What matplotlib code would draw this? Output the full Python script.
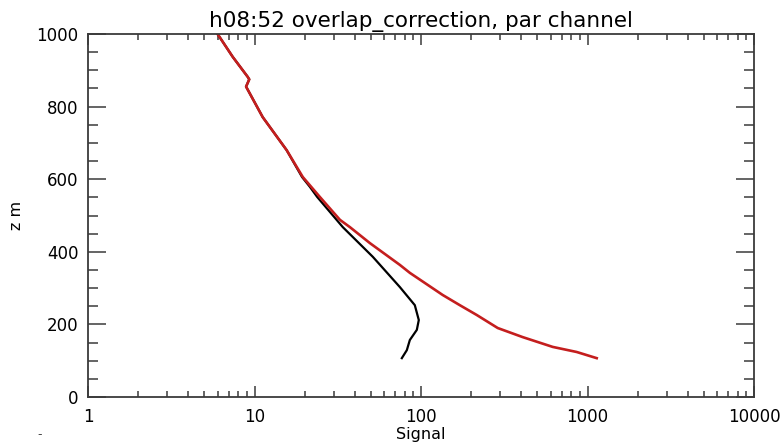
import numpy as np
import matplotlib
matplotlib.use("Agg")
import matplotlib.pyplot as plt

# profile points (signal, height in m)
red_signal = [6.0, 7.4, 9.1, 9.3, 8.9, 11.2, 15.6, 19.5, 24.7, 32.6, 37.4, 49.3,
              74.6, 85.7, 135, 171, 216, 289, 408, 618, 861, 1136]
red_z = [1000, 937, 882, 875, 855, 771, 680, 606, 551, 488, 468, 424,
         364, 342, 281, 253, 226, 190, 165, 138, 124, 107]

black_signal = [6.0, 7.4, 9.1, 9.3, 8.9, 11.2, 15.6, 19.3, 21.5, 23.8, 33.9, 51.4,
                74.6, 91.8, 97.0, 94.4, 85.7, 82.2, 76.7]
black_z = [1000, 937, 882, 875, 855, 771, 680, 606, 579, 551, 468, 386,
           303, 253, 212, 185, 157, 129, 107]

fig = plt.figure(figsize=(7.81, 4.46), dpi=100)
ax = fig.add_axes([88/781, 1-397/446, (754-88)/781, (397-34)/446])

ax.plot(black_signal, black_z, color="black", lw=1.6)
ax.plot(red_signal, red_z, color="#c41e1e", lw=1.9)

ax.set_xscale("log")
ax.set_xlim(1, 10000)
ax.set_ylim(0, 1000)
ax.set_xticks([1, 10, 100, 1000, 10000])
ax.set_xticklabels(["1", "10", "100", "1000", "10000"])
ax.set_yticks([0, 200, 400, 600, 800, 1000])
ax.set_yticks(np.arange(0, 1001, 50), minor=True)

for s in ax.spines.values():
    s.set_color("#3a3a3a")
    s.set_linewidth(1.3)

ax.tick_params(axis="both", which="both", direction="in", top=True, right=True,
               color="#3a3a3a", labelsize=12)
ax.tick_params(axis="x", which="major", length=8, width=1.1, pad=8)
ax.tick_params(axis="x", which="minor", length=4, width=1.1)
ax.tick_params(axis="y", which="major", length=13, width=1.1, pad=7)
ax.tick_params(axis="y", which="minor", length=7, width=1.1)

ax.set_title("h08:52 overlap_correction, par channel", fontsize=15.5, pad=5)
ax.set_xlabel("Signal", fontsize=11.5, labelpad=0.5)
ax.set_ylabel("z m", fontsize=11.5, labelpad=9)

fig.text(40/781, 1-435/446, "-", fontsize=9, color="#444444", ha="center", va="center")

fig.savefig("out.png", dpi=100)
